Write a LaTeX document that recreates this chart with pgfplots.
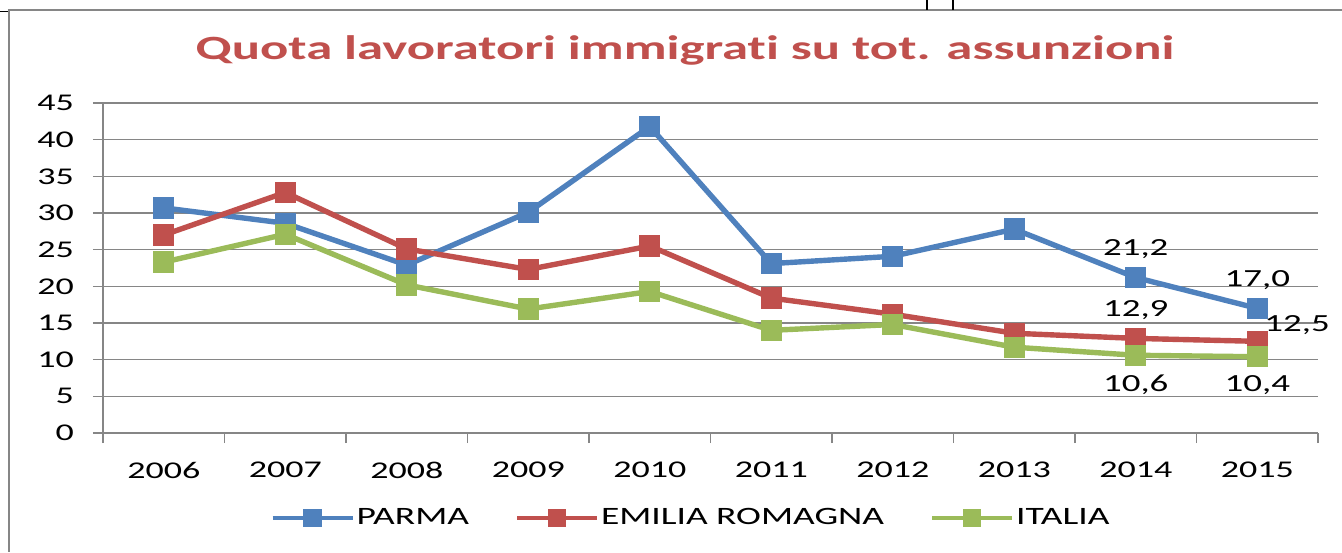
\documentclass[border=0pt]{standalone}
\usepackage{fontspec}
\setmainfont{Carlito}[FakeStretch=1.5]
\newfontfamily\titlefont{Carlito}[FakeStretch=1.55,BoldFont={* Bold},Ligatures={NoCommon}]
\usepackage{pgfplots}
\pgfplotsset{compat=1.18}
\definecolor{cblue}{HTML}{4F81BD}
\definecolor{cred}{HTML}{C0504D}
\definecolor{cgreen}{HTML}{9BBB59}
\definecolor{cgrid}{HTML}{868686}
\begin{document}
\begin{tikzpicture}
\path[use as bounding box] (-51.5pt,-59.5pt) rectangle (619.5pt,216.5pt);
\draw[cgrid, line width=0.7pt] (-47.5pt,211.5pt) -- (619.5pt,211.5pt);
\draw[cgrid, line width=0.7pt] (-47pt,211.5pt) -- (-47pt,-59.5pt);
\draw[black, line width=0.5pt] (-51.5pt,210.5pt) -- (-47.5pt,210.5pt);
\draw[black, line width=0.6pt] (412pt,216.5pt) -- (412pt,211.5pt);
\draw[black, line width=0.6pt] (425pt,216.5pt) -- (425pt,211.5pt);
\begin{axis}[
  at={(0pt,0pt)}, anchor=south west,
  scale only axis, width=607.5pt, height=165pt,
  xmin=-0.5, xmax=9.5, ymin=0, ymax=45,
  xtick={0,...,9},
  xticklabels={2006,2007,2008,2009,2010,2011,2012,2013,2014,2015},
  minor xtick={-0.5,0.5,...,9.5},
  ytick={0,5,...,45},
  major x tick style={draw=none},
  minor tick length=5pt, major tick length=5pt,
  tick align=outside,
  tick style={cgrid, line width=0.8pt},
  ymajorgrids, grid style={cgrid, line width=0.8pt},
  axis x line*=bottom, axis y line*=left,
  axis line style={cgrid, line width=0.9pt, -},
  ticklabel style={font=\fontsize{12}{14}\selectfont, text=black},
  /pgf/number format/assume math mode=true,
  xticklabel style={yshift=-6pt},
  yticklabel style={xshift=-6pt},
  every axis title shift=0pt,
  title={\titlefont\bfseries\fontsize{17}{20}\selectfont Quota lavoratori immigrati su tot. assunzioni},
  title style={text=cred, at={(axis description cs:0.479,1.16)}, anchor=center},
  legend style={draw=none, at={(axis description cs:0.484,-0.258)}, anchor=center,
    legend columns=3, font=\fontsize{12.5}{14}\selectfont,
    nodes={inner xsep=1pt},
    /tikz/every even column/.append style={column sep=22pt}},
  legend image code/.code={\draw[line width=2pt, mark size=3.6pt, mark repeat=2,mark phase=2] plot coordinates {(0pt,0pt) (20pt,0pt) (40pt,0pt)};},
  every axis plot/.append style={line width=2.7pt, mark=square*, mark size=4pt,
    mark options={solid, line width=0.5pt, xscale=1.15, yscale=0.95}},
]
\addplot[cblue, mark options={fill=cblue}] coordinates {
 (0,30.7) (1,28.6) (2,22.9) (3,30.1) (4,41.8) (5,23.1) (6,24.1) (7,27.8) (8,21.2) (9,17.0)};
\addlegendentry{PARMA}
\addplot[cred, mark options={fill=cred}] coordinates {
 (0,27.0) (1,32.8) (2,25.1) (3,22.3) (4,25.5) (5,18.4) (6,16.2) (7,13.6) (8,12.9) (9,12.5)};
\addlegendentry{EMILIA ROMAGNA}
\addplot[cgreen, mark options={fill=cgreen}] coordinates {
 (0,23.3) (1,27.1) (2,20.2) (3,16.9) (4,19.3) (5,14.0) (6,14.8) (7,11.7) (8,10.6) (9,10.4)};
\addlegendentry{ITALIA}
% data labels
\addplot[draw=none, mark=none, forget plot, point meta=explicit symbolic,
  nodes near coords, nodes near coords style={font=\fontsize{12.3}{14}\selectfont, text=black, anchor=south, yshift=6pt}]
  coordinates {(8,21.2) [{21,2}] (9,17.0) [{17,0}] (8,12.9) [{12,9}]};
\addplot[draw=none, mark=none, forget plot, point meta=explicit symbolic,
  nodes near coords, nodes near coords style={font=\fontsize{12.3}{14}\selectfont, text=black, anchor=south west, xshift=0pt, yshift=0pt}]
  coordinates {(9,12.5) [{12,5}]};
\addplot[draw=none, mark=none, forget plot, point meta=explicit symbolic,
  nodes near coords, nodes near coords style={font=\fontsize{12.3}{14}\selectfont, text=black, anchor=north, yshift=-6pt}]
  coordinates {(8,10.6) [{10,6}] (9,10.4) [{10,4}]};
\end{axis}
\end{tikzpicture}
\end{document}
